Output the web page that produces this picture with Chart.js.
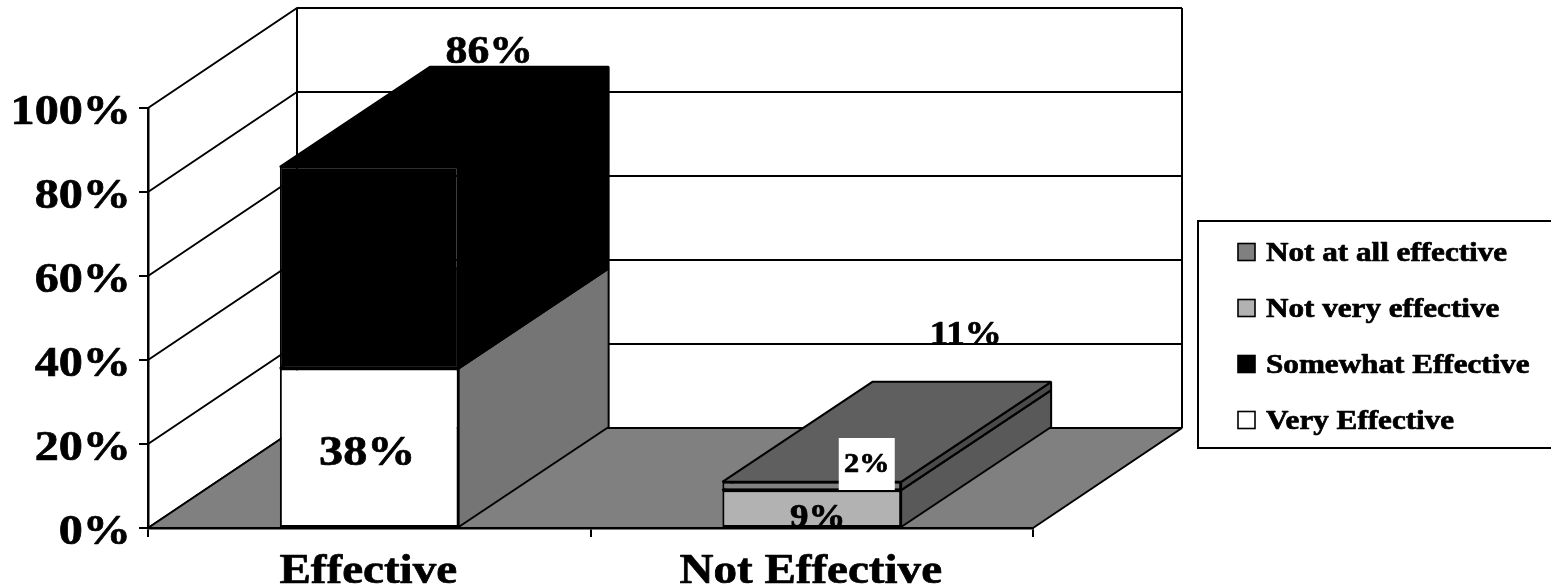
<!DOCTYPE html>
<html>
<head>
<meta charset="utf-8">
<style>
  html, body { margin: 0; padding: 0; background: #fff; overflow: hidden; }
</style>
<script src="https://cdn.jsdelivr.net/npm/chart.js@4/dist/chart.umd.min.js"></script>
</head>
<body>
<canvas id="chart" width="1551" height="587"></canvas>
<script>
const categories = ['Effective', 'Not Effective'];
const yTicks = [0, 20, 40, 60, 80, 100];

// bottom to top of the stack
const veryEffective = [38, null];
const somewhatEffective = [48, null];
const notVeryEffective = [null, 9];
const notAtAllEffective = [null, 2];

// value labels as printed on the picture
const valueLabels = ['86%', '38%', '11%', '9%', '2%'];
const labelValues = [86, 19, 11, 4.5, 10];
const labelCategories = [0, 0, 1, 1, 1];

// ====== STYLE ======
const SERIF = '"Liberation Serif"';
const STRETCH = 1.12;
const DEPTH_X = 149;
const DEPTH_Y = -100;
const BAR_DEPTH_X = 150;
const LINE = 2;

const labelStyle = [
  { size: 39, dx: 120, dy: -104 },
  { size: 43, dx: -2, dy: 17 },
  { size: 33, dx: 154, dy: -138 },
  { size: 33, dx: 6, dy: 18 },
  { size: 27, dx: 55, dy: -14, box: true }
];

function textAt(ctx, text, x, y, size, align) {
  ctx.save();
  ctx.translate(x, y);
  ctx.scale(STRETCH, 1);
  ctx.font = `bold ${size}px ${SERIF}`;
  ctx.textAlign = align;
  ctx.textBaseline = 'alphabetic';
  ctx.fillStyle = '#000';
  ctx.strokeStyle = '#000';
  ctx.lineWidth = 0.7;
  ctx.lineJoin = 'round';
  ctx.fillText(text, 0, 0);
  ctx.strokeText(text, 0, 0);
  ctx.restore();
}

function poly(ctx, pts, fill) {
  ctx.beginPath();
  pts.forEach((p, i) => i ? ctx.lineTo(p[0], p[1]) : ctx.moveTo(p[0], p[1]));
  ctx.closePath();
  if (fill) {
    ctx.fillStyle = fill;
    ctx.fill();
  }
  ctx.lineWidth = LINE;
  ctx.lineJoin = 'bevel';
  ctx.strokeStyle = '#000';
  ctx.stroke();
}

// Dinding belakang, lantai, sisi balok
const chart3d = {
  id: 'chart3d',
  beforeDraw(chart) {
    const { ctx, chartArea: a, scales: { y } } = chart;
    const floorY = y.getPixelForValue(0);
    const topY = y.getPixelForValue(100);
    ctx.save();
    ctx.fillStyle = '#fff';
    ctx.fillRect(0, 0, chart.width, chart.height);

    // garis grid di dinding kiri + belakang
    ctx.lineWidth = LINE;
    ctx.lineJoin = 'bevel';
    ctx.strokeStyle = '#000';
    y.ticks.forEach(t => {
      const py = y.getPixelForValue(t.value);
      ctx.beginPath();
      ctx.moveTo(a.left, py);
      ctx.lineTo(a.left + DEPTH_X, py + DEPTH_Y);
      ctx.lineTo(a.right + DEPTH_X, py + DEPTH_Y);
      ctx.stroke();
    });
    ctx.beginPath();
    ctx.moveTo(a.left + DEPTH_X, topY + DEPTH_Y);
    ctx.lineTo(a.left + DEPTH_X, floorY + DEPTH_Y);
    ctx.moveTo(a.right + DEPTH_X, topY + DEPTH_Y);
    ctx.lineTo(a.right + DEPTH_X, floorY + DEPTH_Y);
    ctx.stroke();

    // lantai
    poly(ctx, [
      [a.left, floorY],
      [a.left + DEPTH_X, floorY + DEPTH_Y],
      [a.right + DEPTH_X, floorY + DEPTH_Y],
      [a.right, floorY]
    ], '#808080');
    ctx.restore();
  },
  beforeDatasetsDraw(chart) {
    const { ctx } = chart;
    ctx.save();
    chart.data.datasets.forEach((ds, di) => {
      const meta = chart.getDatasetMeta(di);
      meta.data.forEach((bar, i) => {
        if (ds.data[i] == null) return;
        const x1 = bar.x - bar.width / 2;
        const x2 = bar.x + bar.width / 2;
        poly(ctx, [
          [x2, bar.y],
          [x2 + BAR_DEPTH_X, bar.y + DEPTH_Y],
          [x2 + BAR_DEPTH_X, bar.base + DEPTH_Y],
          [x2, bar.base]
        ], ds.sideColor);
        poly(ctx, [
          [x1, bar.y],
          [x1 + BAR_DEPTH_X, bar.y + DEPTH_Y],
          [x2 + BAR_DEPTH_X, bar.y + DEPTH_Y],
          [x2, bar.y]
        ], ds.topColor);
      });
    });
    ctx.restore();
  },
  afterDraw(chart) {
    const { ctx, scales: { x, y } } = chart;

    // label sumbu
    y.ticks.forEach(t => {
      textAt(ctx, t.label, 131, y.getPixelForValue(t.value) + 16, 43, 'right');
    });
    categories.forEach((c, i) => {
      textAt(ctx, c, x.getPixelForValue(i) - 1, 583, 42, 'center');
    });

    // label nilai
    valueLabels.forEach((text, i) => {
      const s = labelStyle[i];
      const px = x.getPixelForValue(labelCategories[i]) + s.dx;
      const py = y.getPixelForValue(labelValues[i]) + s.dy;
      if (s.box) {
        ctx.fillStyle = '#fff';
        ctx.fillRect(px - 28, py - 34, 56, 52);
      }
      textAt(ctx, text, px, py, s.size, 'center');
    });

    // legenda
    ctx.save();
    ctx.lineWidth = 2;
    ctx.strokeStyle = '#000';
    ctx.beginPath();
    ctx.moveTo(1560, 221);
    ctx.lineTo(1198, 221);
    ctx.lineTo(1198, 448);
    ctx.lineTo(1560, 448);
    ctx.stroke();
    ctx.restore();
    const rows = chart.data.datasets.slice().reverse();
    rows.forEach((ds, i) => {
      const cy = 252 + i * 56;
      ctx.save();
      ctx.fillStyle = ds.backgroundColor;
      ctx.fillRect(1238, cy - 8.5, 17, 17);
      ctx.lineWidth = 1.6;
      ctx.strokeStyle = '#000';
      ctx.strokeRect(1238, cy - 8.5, 17, 17);
      ctx.restore();
      textAt(ctx, ds.label, 1266, cy + 9, 27.8, 'left');
    });
  }
};

new Chart(document.getElementById('chart'), {
  type: 'bar',
  data: {
    labels: categories,
    datasets: [
      { label: 'Very Effective', data: veryEffective, backgroundColor: '#ffffff', sideColor: '#757575', topColor: '#757575' },
      { label: 'Somewhat Effective', data: somewhatEffective, backgroundColor: '#000000', sideColor: '#000000', topColor: '#000000' },
      { label: 'Not very effective', data: notVeryEffective, backgroundColor: '#b2b2b2', sideColor: '#595959', topColor: '#5f5f5f' },
      { label: 'Not at all effective', data: notAtAllEffective, backgroundColor: '#808080', sideColor: '#4a4a4a', topColor: '#5f5f5f' }
    ]
  },
  options: {
    responsive: false,
    animation: false,
    layout: { padding: { top: 108, right: 518, bottom: 0, left: 0 } },
    datasets: {
      bar: {
        categoryPercentage: 1,
        barPercentage: 0.404,
        borderColor: '#000',
        borderWidth: LINE,
        borderSkipped: false
      }
    },
    plugins: {
      legend: { display: false },
      tooltip: { enabled: false }
    },
    scales: {
      x: {
        stacked: true,
        afterFit: s => { s.height = 59; },
        grid: { drawOnChartArea: false, tickLength: 9, color: '#000', lineWidth: LINE },
        border: { color: '#000', width: 2.5 },
        ticks: { display: false, autoSkip: false }
      },
      y: {
        stacked: true,
        min: yTicks[0],
        max: yTicks[yTicks.length - 1],
        afterFit: s => { s.width = 148; },
        afterBuildTicks: s => { s.ticks = yTicks.map(v => ({ value: v })); },
        grid: { drawOnChartArea: false, tickLength: 9, color: '#000', lineWidth: LINE },
        border: { color: '#000', width: 2.5 },
        ticks: { display: false, callback: v => v + '%' }
      }
    }
  },
  plugins: [chart3d]
});
</script>
</body>
</html>
